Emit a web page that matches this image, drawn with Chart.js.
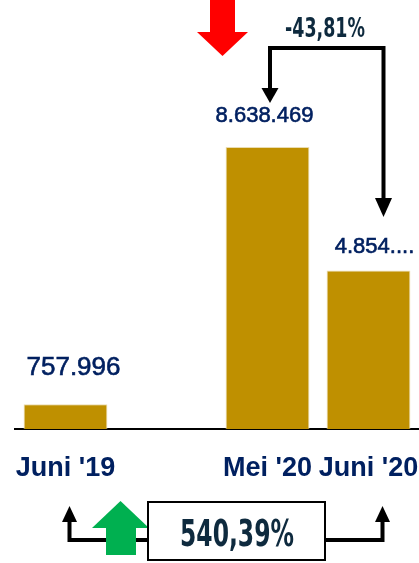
<!DOCTYPE html>
<html>
<head>
<meta charset="utf-8">
<script src="https://cdn.jsdelivr.net/npm/chart.js@4"></script>
<style>
  body { margin: 0; background: #fff; }
  #wrap { width: 419px; height: 563px; }
</style>
</head>
<body>
<div id="wrap"><canvas id="myChart" width="419" height="563"></canvas></div>
<script>
// data
const categories = ["Juni '19", "", "Mei '20", "Juni '20"];
const values = [757996, null, 8638469, 4854133];
const valueLabels = ['757.996', '', '8.638.469', '4.854....'];
const changeDown = '-43,81%';
const changeUp = '540,39%';

// label look per bar
const labelSize = [26, 0, 22, 22];
const labelGap = [29, 0, 25, 18];
const labelShift = [8, 0, -3, 6];

const navy = '#002060';
const darkText = '#0E2A3E';

// text squeezed to look like a condensed heavy face
function squeezedText(ctx, text, cx, baseline, size, targetW, color) {
    ctx.save();
    ctx.font = "bold " + size + "px 'DejaVu Sans'";
    const w = ctx.measureText(text).width;
    ctx.translate(cx, baseline);
    ctx.scale(targetW / w, 1);
    ctx.fillStyle = color;
    ctx.textAlign = 'center';
    ctx.textBaseline = 'alphabetic';
    ctx.fillText(text, 0, 0);
    ctx.restore();
}

function tri(ctx, a, b, c, color) {
    ctx.beginPath();
    ctx.moveTo(a[0], a[1]);
    ctx.lineTo(b[0], b[1]);
    ctx.lineTo(c[0], c[1]);
    ctx.closePath();
    ctx.fillStyle = color;
    ctx.fill();
}

const valueLabelPlugin = {
    id: 'valueLabels',
    afterDatasetsDraw(chart) {
        const ctx = chart.ctx;
        const bars = chart.getDatasetMeta(0).data;
        ctx.save();
        ctx.fillStyle = navy;
        ctx.strokeStyle = navy;
        ctx.lineWidth = 0.6;
        ctx.textAlign = 'center';
        ctx.textBaseline = 'alphabetic';
        bars.forEach((bar, i) => {
            if (!valueLabels[i]) return;
            ctx.font = labelSize[i] + "px 'Liberation Sans', Arial, sans-serif";
            ctx.fillText(valueLabels[i], bar.x + labelShift[i], bar.y - labelGap[i]);
            ctx.strokeText(valueLabels[i], bar.x + labelShift[i], bar.y - labelGap[i]);
        });
        ctx.restore();
    }
};

const arrowsPlugin = {
    id: 'arrows',
    afterDraw(chart) {
        const ctx = chart.ctx;
        const bars = chart.getDatasetMeta(0).data;
        const xA = bars[0].x, xB = bars[2].x, xC = bars[3].x;
        ctx.save();
        ctx.strokeStyle = '#000';
        ctx.lineWidth = 4;
        ctx.lineJoin = 'miter';

        // top connector Mei '20 -> Juni '20
        const lx = xB + 2.5, rx = xC + 15;
        ctx.beginPath();
        ctx.moveTo(rx, 200);
        ctx.lineTo(rx, 48);
        ctx.lineTo(lx, 48);
        ctx.lineTo(lx, 90);
        ctx.stroke();
        tri(ctx, [lx - 8.5, 88], [lx + 8.5, 88], [lx, 103], '#000');
        tri(ctx, [rx - 8.5, 198], [rx + 8.5, 198], [rx, 217], '#000');
        squeezedText(ctx, changeDown, 325, 37, 27, 80, darkText);

        // red arrow
        ctx.fillStyle = '#FF0000';
        ctx.fillRect(210, 0, 25, 33);
        tri(ctx, [197, 32], [248, 32], [222.5, 56], '#FF0000');

        // bottom connector Juni '19 -> Juni '20
        const bl = xA + 4, br = xC + 14;
        ctx.beginPath();
        ctx.moveTo(bl, 520);
        ctx.lineTo(bl, 540);
        ctx.lineTo(br, 540);
        ctx.lineTo(br, 520);
        ctx.stroke();
        tri(ctx, [bl - 7.5, 522], [bl + 7.5, 522], [bl, 506], '#000');
        tri(ctx, [br - 7.5, 522], [br + 7.5, 522], [br, 506], '#000');

        // green arrow
        ctx.fillStyle = '#00B050';
        ctx.fillRect(106, 527, 30, 28);
        tri(ctx, [92, 528], [149, 528], [120.5, 501], '#00B050');

        // box with change
        ctx.fillStyle = '#fff';
        ctx.fillRect(148, 502, 177, 58);
        ctx.lineWidth = 2;
        ctx.strokeRect(148, 502, 177, 58);
        squeezedText(ctx, changeUp, 237, 546, 38, 114, darkText);
        ctx.restore();
    }
};

const ctx = document.getElementById('myChart').getContext('2d');
const myChart = new Chart(ctx, {
    type: 'bar',
    data: {
        labels: categories,
        datasets: [{
            data: values,
            backgroundColor: '#BF9000',
            borderColor: '#EADCB0',
            borderWidth: 1,
            categoryPercentage: 1,
            barPercentage: 0.83
        }]
    },
    options: {
        responsive: false,
        animation: false,
        layout: { autoPadding: false, padding: { left: 15, top: 0, right: 0, bottom: 0 } },
        plugins: {
            legend: { display: false },
            tooltip: { enabled: false }
        },
        scales: {
            y: {
                display: false,
                min: 0,
                max: 13140000
            },
            x: {
                grid: { display: false, drawTicks: false },
                border: { display: true, color: '#000', width: 2 },
                ticks: {
                    color: navy,
                    padding: 23,
                    maxRotation: 0,
                    autoSkip: false,
                    font: { family: "'Liberation Sans', Arial, sans-serif", size: 27, weight: 'bold' }
                },
                afterFit(scale) {
                    scale.height = 134;
                    scale.paddingLeft = 0;
                    scale.paddingRight = 0;
                }
            }
        }
    },
    plugins: [valueLabelPlugin, arrowsPlugin]
});
</script>
</body>
</html>
